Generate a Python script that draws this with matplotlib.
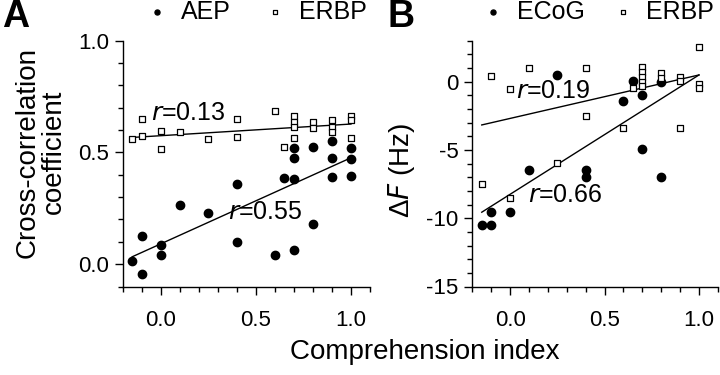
import numpy as np
import matplotlib
matplotlib.use("Agg")
import matplotlib.pyplot as plt
from matplotlib.ticker import MultipleLocator

plt.rcParams["font.family"] = ["Liberation Sans", "DejaVu Sans"]
plt.rcParams["axes.unicode_minus"] = False

# Panel A: cross-correlation coefficient vs comprehension index
aep_x = [-0.15, -0.1, -0.1, 0, 0, 0.1, 0.25, 0.4, 0.4, 0.6, 0.65, 0.7, 0.7, 0.7, 0.7,
         0.8, 0.8, 0.9, 0.9, 0.9, 1.0, 1.0, 1.0]
aep_y = [0.013, -0.042, 0.127, 0.085, 0.043, 0.264, 0.228, 0.36, 0.099, 0.040, 0.384,
         0.521, 0.476, 0.381, 0.063, 0.525, 0.178, 0.551, 0.473, 0.391, 0.521, 0.469, 0.395]
erbp_a_x = [-0.15, -0.1, -0.1, 0, 0, 0.1, 0.25, 0.4, 0.4, 0.6, 0.65, 0.7, 0.7, 0.7, 0.7,
            0.8, 0.8, 0.9, 0.9, 0.9, 1.0, 1.0, 1.0]
erbp_a_y = [0.558, 0.649, 0.573, 0.596, 0.514, 0.593, 0.560, 0.649, 0.570, 0.687, 0.525,
            0.663, 0.637, 0.615, 0.563, 0.637, 0.610, 0.645, 0.615, 0.593, 0.663, 0.645, 0.566]

# Panel B: frequency shift vs comprehension index
ecog_x = [-0.15, -0.1, -0.1, 0, 0.1, 0.25, 0.4, 0.4, 0.6, 0.65, 0.7, 0.7, 0.8, 0.8]
ecog_y = [-10.48, -10.48, -9.51, -9.51, -6.46, 0.51, -6.46, -7.0, -1.44, 0.07, -0.98,
          -4.95, -0.05, -7.0]
erbp_b_x = [-0.15, -0.1, 0, 0, 0.1, 0.25, 0.4, 0.4, 0.6, 0.65, 0.7, 0.7, 0.7, 0.7, 0.7,
            0.8, 0.8, 0.9, 0.9, 0.9, 1.0, 1.0, 1.0]
erbp_b_y = [-7.53, 0.44, -0.54, -8.54, 0.98, -5.98, 0.98, -2.49, -3.41, -0.46, 1.10, 0.68,
            0.32, -0.05, -0.34, 0.61, 0.27, 0.32, 0.07, -3.41, 2.56, -0.17, -0.46]

# regression lines as drawn in the figure (value at each end of the x range)
fit_x = [-0.15, 1.0]
aep_fit = [0.033, 0.476]
erbp_a_fit = [0.567, 0.627]
ecog_fit = [-9.56, 0.49]
erbp_b_fit = [-3.17, 0.49]

r_a = ["0.13", "0.55"]
r_b = ["0.19", "0.66"]


def style_axes(ax):
    for s in ["top", "right"]:
        ax.spines[s].set_visible(False)
    for s in ["left", "bottom"]:
        ax.spines[s].set_linewidth(1.0)
    ax.set_xlim(-0.2, 1.1)
    ax.xaxis.set_major_locator(MultipleLocator(0.5))
    ax.xaxis.set_minor_locator(MultipleLocator(0.1))
    ax.tick_params(which="major", direction="out", length=6, width=1, labelsize=16, pad=4)
    ax.tick_params(which="minor", direction="out", length=3.5, width=1)
    ax.tick_params(axis="x", which="major", pad=11)


def draw_series(ax, cx, cy, sx, sy, fit_c, fit_s, labels, leg_x, colsp):
    ax.plot(fit_x, fit_c, color="black", lw=1.0, zorder=1)
    ax.plot(fit_x, fit_s, color="black", lw=1.0, zorder=1)
    ax.scatter(cx, cy, s=36, marker="o", color="black", zorder=2, label=labels[0])
    ax.scatter(sx, sy, s=22, marker="s", facecolor="white", edgecolor="black",
               linewidth=0.9, zorder=3, label=labels[1])
    ax.legend(loc="center left", bbox_to_anchor=(leg_x, 1.117), ncol=2, frameon=False,
              fontsize=18, markerscale=0.6, handletextpad=0.45, columnspacing=colsp,
              borderaxespad=0, handlelength=1.0, borderpad=0)


fig = plt.figure(figsize=(7.2, 3.75), dpi=100)
axA = fig.add_axes([0.1704, 0.236, 0.3435, 0.6555])
axB = fig.add_axes([0.656, 0.236, 0.341, 0.6555])

# --- A ---
style_axes(axA)
axA.set_ylim(-0.1, 1.0)
axA.yaxis.set_minor_locator(MultipleLocator(0.1))
axA.set_yticks([0.0, 0.5, 1.0])
axA.set_yticklabels(["0.0", "0.5", "1.0"])
axA.set_xticks([0.0, 0.5, 1.0])
axA.set_xticklabels(["0.0", "0.5", "1.0"])
draw_series(axA, aep_x, aep_y, erbp_a_x, erbp_a_y, aep_fit, erbp_a_fit,
            ["AEP", "ERBP"], 0.09, 1.25)
axA.text(-0.05, 0.676, r"$\it{r}$=" + r_a[0], fontsize=18, va="center", ha="left")
axA.text(0.355, 0.233, r"$\it{r}$=" + r_a[1], fontsize=18, va="center", ha="left")
axA.set_ylabel("Cross-correlation\ncoefficient", fontsize=20, linespacing=1.0)
axA.yaxis.set_label_coords(-0.225, 0.547)

# --- B ---
style_axes(axB)
axB.set_ylim(-15, 3)
axB.yaxis.set_major_locator(MultipleLocator(5))
axB.yaxis.set_minor_locator(MultipleLocator(1))
axB.set_xticks([0.0, 0.5, 1.0])
axB.set_xticklabels(["0.0", "0.5", "1.0"])
draw_series(axB, ecog_x, ecog_y, erbp_b_x, erbp_b_y, ecog_fit, erbp_b_fit,
            ["ECoG", "ERBP"], 0.035, 1.0)
axB.text(0.03, -0.66, r"$\it{r}$=" + r_b[0], fontsize=18, va="center", ha="left")
axB.text(0.095, -8.27, r"$\it{r}$=" + r_b[1], fontsize=18, va="center", ha="left")
axB.set_ylabel(r"Δ$\it{F}$ (Hz)", fontsize=20)
axB.yaxis.set_label_coords(-0.225, 0.47)

fig.text(0.003, 0.955, "A", fontsize=27, fontweight="bold", va="center", ha="left")
fig.text(0.538, 0.955, "B", fontsize=27, fontweight="bold", va="center", ha="left")
fig.text(0.59, 0.062, "Comprehension index", fontsize=20, ha="center", va="center")

fig.savefig("out.png", dpi=100)
